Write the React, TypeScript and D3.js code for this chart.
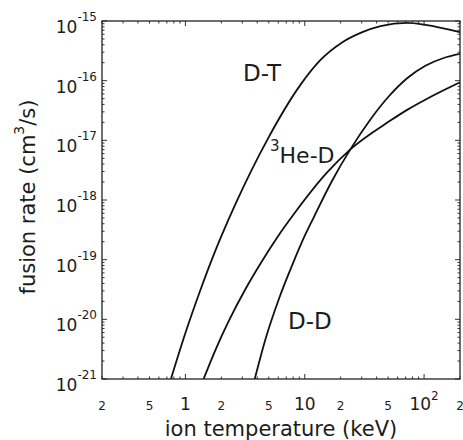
import React from 'react';
import * as d3 from 'd3';

// ion temperature (keV) and fusion rate <sigma v> (cm^3/s)
const dtTemp = [0.756, 1.0, 1.336, 1.674, 2.624, 4.84, 9.2, 13.5, 20.7, 30.4, 43.1, 72.5, 102.6, 200];
const dtRate = [1.0e-21, 5.9e-21, 3.1e-20, 1.03e-19, 8.5e-19, 1.01e-17, 8.5e-17, 2.2e-16, 4.4e-16, 6.5e-16, 8.2e-16, 9.3e-16, 8.6e-16, 6.5e-16];

const hedTemp = [1.42, 1.78, 2.31, 3.18, 4.39, 6.05, 8.35, 15.4, 24.1, 52.2, 72.1, 106, 200];
const hedRate = [1.0e-21, 3.03e-21, 9.4e-21, 3.19e-20, 9.5e-20, 2.57e-19, 6.3e-19, 2.9e-18, 7.05e-18, 2.14e-17, 3.24e-17, 4.99e-17, 9.4e-17];

const ddTemp = [3.81, 4.68, 6.05, 7.84, 10.1, 11.9, 17.0, 24.1, 35.5, 50.5, 72.1, 102.6, 146, 200];
const ddRate = [1.0e-21, 4.6e-21, 2.15e-20, 8.05e-20, 2.62e-19, 5.13e-19, 2.12e-18, 7.05e-18, 2.24e-17, 5.43e-17, 1.1e-16, 1.78e-16, 2.4e-16, 2.81e-16];

const xLabelTicks = [0.2, 0.5, 1, 2, 5, 10, 20, 50, 100, 200];
const xLabelText = ['2', '5', '1', '2', '5', '10', '2', '5', '10', '2'];
const xLabelSup = ['', '', '', '', '', '', '', '', '2', ''];

const yLabelTicks = [1e-15, 1e-16, 1e-17, 1e-18, 1e-19, 1e-20, 1e-21];
const yLabelSup = ['-15', '-16', '-17', '-18', '-19', '-20', '-21'];

const W = 463;
const H = 440;
const left = 102, right = 460, top = 21, bottom = 379;
const font = '"DejaVu Sans", sans-serif';
const ink = '#1c1c1c';

const isMajor = (t: number) => Math.abs(Math.log10(t) - Math.round(Math.log10(t))) < 1e-6;

const App = () => {
  const x = d3.scaleLog().domain([0.2, 200]).range([left, right]);
  const y = d3.scaleLog().domain([1e-21, 1e-15]).range([bottom, top]);

  const line = d3.line<[number, number]>()
    .x(d => x(d[0]))
    .y(d => y(d[1]))
    .curve(d3.curveMonotoneX);

  const series = [
    { t: dtTemp, r: dtRate },
    { t: hedTemp, r: hedRate },
    { t: ddTemp, r: ddRate },
  ];

  const xTicks = x.ticks();
  const yTicks = y.ticks();

  return (
    <svg width={W} height={H} style={{ position: 'absolute', left: 0, top: 0 }} fontFamily={font}>
      <rect width={W} height={H} fill="#fff" />
      <defs>
        <clipPath id="plot">
          <rect x={left} y={top} width={right - left} height={bottom - top} />
        </clipPath>
      </defs>

      <g clipPath="url(#plot)" fill="none" stroke="#111" strokeWidth={1.8}>
        {series.map((s, i) => (
          <path key={i} d={line(s.t.map((t, j) => [t, s.r[j]] as [number, number])) || ''} />
        ))}
      </g>

      {/* ticks, inside on all four sides */}
      <g stroke="#333" strokeWidth={1}>
        {xTicks.map((t, i) => {
          const len = isMajor(t) ? 5 : 2.5;
          const px = x(t);
          return (
            <g key={'x' + i}>
              <line x1={px} x2={px} y1={bottom} y2={bottom - len} />
              <line x1={px} x2={px} y1={top} y2={top + len} />
            </g>
          );
        })}
        {yTicks.map((t, i) => {
          const len = isMajor(t) ? 5 : 2.5;
          const py = y(t);
          return (
            <g key={'y' + i}>
              <line x1={left} x2={left + len} y1={py} y2={py} />
              <line x1={right} x2={right - len} y1={py} y2={py} />
            </g>
          );
        })}
      </g>
      <rect x={left} y={top} width={right - left} height={bottom - top} fill="none" stroke="#222" strokeWidth={1.3} />

      {/* x tick labels */}
      <g fill={ink} textAnchor="middle">
        {xLabelTicks.map((t, i) => (
          <text key={i} x={x(t)} y={410} fontSize={isMajor(t) ? 17 : 12}>
            {xLabelText[i]}
            {xLabelSup[i] && <tspan dy={-10} fontSize={12}>{xLabelSup[i]}</tspan>}
          </text>
        ))}
      </g>

      {/* y tick labels */}
      <g fill={ink} textAnchor="end">
        {yLabelTicks.map((t, i) => (
          <text key={i} x={97} y={y(t) + 12} fontSize={17}>
            10<tspan dy={-12} fontSize={12}>{yLabelSup[i]}</tspan>
          </text>
        ))}
      </g>

      {/* axis titles */}
      <text x={(left + right) / 2} y={436} textAnchor="middle" fontSize={21} fill={ink}>
        ion temperature (keV)
      </text>
      <text transform="translate(35,197) rotate(-90)" textAnchor="middle" fontSize={21} fill={ink}>
        fusion rate (cm<tspan dy={-11} fontSize={14}>3</tspan><tspan dy={11}>/s)</tspan>
      </text>

      {/* curve labels */}
      <text x={243} y={81} fontSize={23} fill={ink}>D-T</text>
      <text x={270} y={163} fontSize={22} fill={ink}>
        <tspan dy={-12} fontSize={15}>3</tspan><tspan dy={12}>He-D</tspan>
      </text>
      <text x={288} y={329} fontSize={23} fill={ink}>D-D</text>
    </svg>
  );
};

export default App;
